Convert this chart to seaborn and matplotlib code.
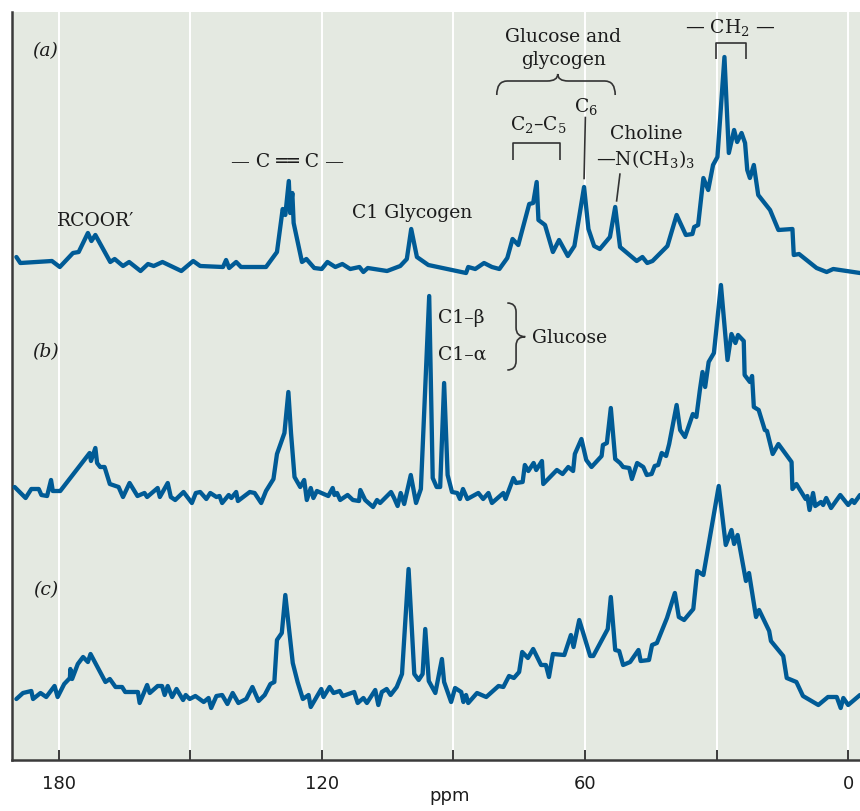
import matplotlib
matplotlib.use("Agg")
import matplotlib.pyplot as plt
from matplotlib.path import Path
from matplotlib.patches import PathPatch
import seaborn as sns
import pandas as pd

# --- 13C NMR spectra: chemical shift (ppm) and signal intensity (a.u.) ---
ppm_a = [189.6, 188.7, 181.5, 179.7, 176.7, 175.4, 173.3, 172.5, 171.6, 168.2,
         167.2, 165.3, 163.9, 161.3, 159.6, 158.3, 156.3, 152.0, 149.3, 147.7,
         142.5, 141.8, 141.1, 139.5, 138.4, 132.7, 130.2, 128.9, 128.3, 127.5,
         127.2, 126.7, 126.4, 124.5, 123.5, 121.7, 120.0, 118.7, 116.9, 115.3,
         113.5, 111.4, 110.5, 109.5, 105.1, 102.1, 100.6, 99.6, 98.3, 95.7,
         87.1, 86.6, 85.0, 83.0, 81.2, 79.5, 77.7, 76.5, 75.2, 72.7,
         71.8, 71.0, 70.6, 69.1, 67.3, 65.9, 63.9, 62.4, 60.2, 59.2,
         57.9, 56.6, 54.3, 53.1, 52.0, 48.2, 46.9, 45.8, 44.6, 41.2,
         39.1, 37.0, 35.5, 35.1, 34.2, 33.0, 31.9, 30.8, 29.8, 28.2,
         27.2, 26.0, 25.3, 24.3, 23.5, 23.0, 22.4, 21.5, 20.5, 17.8,
         15.9, 12.7, 12.4, 11.2, 7.2, 4.9, 3.4, -2.7]
int_a = [18, 12, 14, 8, 22, 23, 42, 34, 40, 13,
         16, 9, 13, 4, 11, 9, 13, 4, 14, 9,
         8, 15, 7, 13, 8, 8, 23, 66, 60, 94,
         62, 82, 52, 13, 16, 7, 6, 13, 8, 11,
         6, 8, 3, 7, 4, 9, 16, 46, 18, 10,
         2, 8, 6, 12, 8, 6, 17, 36, 30, 71,
         72, 93, 55, 50, 23, 35, 19, 29, 88, 46,
         29, 26, 38, 68, 28, 14, 18, 12, 14, 29,
         60, 40, 41, 48, 50, 97, 85, 110, 118, 218,
         122, 145, 133, 142, 132, 105, 97, 110, 80, 65,
         45, 46, 20, 21, 7, 3, 6, 2]

ppm_b = [190.0, 187.5, 186.2, 184.5, 183.9, 182.6, 181.7, 181.3, 179.6, 172.9,
         172.6, 171.6, 171.2, 170.5, 169.5, 168.3, 166.3, 165.3, 163.8, 162.0,
         160.4, 159.8, 157.4, 156.9, 155.1, 154.4, 153.4, 151.5, 149.6, 148.7,
         147.7, 146.3, 145.4, 144.0, 143.3, 142.7, 141.2, 140.6, 139.5, 139.1,
         136.4, 135.3, 133.8, 132.7, 131.0, 130.2, 128.5, 127.6, 127.0, 126.2,
         124.9, 124.0, 123.4, 122.5, 121.9, 121.1, 118.5, 117.5, 117.1, 116.5,
         115.8, 114.1, 112.9, 111.5, 111.2, 110.1, 108.3, 107.4, 106.7, 104.2,
         103.5, 102.7, 102.0, 101.2, 99.7, 98.5, 97.4, 95.5, 94.7, 93.8,
         93.0, 92.1, 91.3, 90.3, 89.1, 88.5, 87.8, 86.8, 84.3, 83.2,
         82.0, 81.2, 78.6, 78.1, 76.3, 75.7, 74.2, 73.7, 72.9, 71.7,
         71.1, 69.8, 69.5, 66.4, 65.1, 63.8, 62.7, 62.3, 60.8, 59.7,
         58.5, 56.2, 55.9, 55.0, 54.1, 53.1, 52.0, 51.3, 49.9, 49.3,
         48.1, 46.7, 45.9, 44.8, 44.1, 43.3, 42.5, 41.5, 40.8, 39.1,
         38.3, 37.2, 35.4, 34.6, 33.8, 33.2, 32.6, 31.8, 30.6, 29.0,
         27.5, 26.6, 25.7, 25.1, 23.8, 23.6, 22.4, 21.9, 21.5, 20.4,
         19.0, 18.5, 17.2, 15.9, 12.9, 12.7, 11.8, 9.7, 9.3, 8.8,
         8.0, 7.5, 6.2, 5.7, 5.0, 3.9, 1.8, 0.0, -0.9, -1.4,
         -2.7]
int_b = [25, 14, 23, 23, 17, 16, 32, 21, 21, 59,
         51, 64, 49, 45, 45, 28, 25, 15, 29, 16,
         19, 15, 24, 15, 29, 15, 12, 20, 9, 19,
         20, 13, 19, 15, 16, 9, 17, 14, 20, 11,
         20, 19, 9, 21, 33, 58, 79, 120, 79, 35,
         25, 32, 12, 24, 14, 21, 16, 24, 17, 19,
         12, 17, 12, 11, 22, 12, 5, 12, 9, 20,
         14, 6, 19, 8, 37, 9, 23, 216, 34, 25,
         25, 129, 37, 20, 19, 13, 23, 13, 19, 13,
         19, 9, 19, 13, 34, 29, 30, 47, 41, 49,
         42, 51, 28, 42, 38, 45, 41, 58, 73, 52,
         45, 56, 67, 69, 104, 53, 49, 45, 44, 33,
         49, 45, 37, 38, 46, 47, 59, 56, 68, 107,
         82, 75, 98, 95, 122, 140, 125, 150, 159, 227,
         152, 178, 169, 177, 171, 137, 130, 136, 105, 102,
         82, 81, 58, 68, 50, 23, 28, 13, 16, 2,
         19, 6, 10, 7, 14, 4, 17, 7, 12, 9,
         17]

ppm_c = [189.6, 188.1, 186.2, 185.8, 184.1, 182.8, 180.9, 180.2, 178.7, 177.4,
         177.3, 176.9, 175.6, 174.4, 173.3, 172.7, 169.3, 168.3, 167.0, 165.5,
         164.8, 161.9, 161.5, 159.8, 159.2, 157.4, 156.4, 155.8, 155.1, 154.1,
         153.1, 151.6, 151.0, 150.1, 148.8, 146.9, 145.8, 145.2, 144.0, 142.7,
         141.5, 140.3, 139.0, 137.2, 135.8, 134.4, 133.0, 131.7, 130.8, 130.2,
         129.1, 128.3, 126.6, 125.5, 124.3, 123.0, 122.5, 120.1, 119.6, 118.2,
         117.3, 115.9, 115.2, 112.6, 111.8, 110.5, 109.7, 107.8, 107.1, 106.3,
         105.2, 104.3, 102.9, 101.7, 100.2, 98.9, 97.9, 97.0, 96.4, 95.6,
         94.1, 92.6, 92.1, 90.5, 89.6, 88.2, 87.7, 87.1, 86.6, 84.6,
         82.5, 79.7, 78.6, 77.3, 76.2, 75.0, 74.3, 73.0, 71.8, 70.0,
         68.9, 68.2, 67.3, 64.7, 63.2, 62.6, 61.3, 58.8, 58.1, 54.8,
         54.1, 53.1, 52.2, 51.3, 49.7, 47.8, 47.3, 45.4, 44.7, 43.6,
         41.3, 39.5, 38.6, 37.4, 35.3, 34.4, 33.0, 29.5, 27.9, 26.6,
         26.0, 25.2, 23.3, 22.6, 21.0, 20.3, 18.0, 17.6, 14.8, 14.0,
         11.8, 10.3, 6.8, 4.6, 2.6, 1.7, 1.1, 0.0, -2.7]
int_c = [11, 17, 19, 11, 17, 13, 24, 13, 26, 32,
         41, 31, 46, 53, 48, 56, 28, 31, 23, 23,
         18, 18, 7, 25, 17, 24, 24, 15, 24, 13,
         21, 10, 15, 11, 14, 8, 12, 2, 14, 15,
         6, 17, 7, 11, 23, 9, 15, 26, 28, 70,
         77, 115, 47, 28, 11, 15, 3, 21, 13, 23,
         17, 19, 14, 18, 7, 12, 7, 20, 5, 18,
         21, 15, 23, 36, 141, 36, 30, 36, 81, 29,
         17, 51, 28, 8, 22, 18, 8, 15, 7, 17,
         13, 24, 23, 34, 32, 38, 58, 52, 61, 45,
         45, 33, 56, 55, 75, 63, 90, 54, 54, 81,
         113, 60, 59, 45, 48, 60, 49, 50, 65, 67,
         92, 117, 93, 90, 101, 139, 135, 224, 165, 180,
         166, 175, 129, 137, 93, 100, 79, 69, 54, 32,
         28, 14, 5, 13, 13, 2, 12, 5, 15]

trace_names = ["(a)", "(b)", "(c)"]
trace_offsets = [485, 248, 50]      # vertical stacking of the spectra
x_ticks = [180, 150, 120, 90, 60, 30, 0]
x_ticklabels = ["180", "", "120", "", "60", "", "0"]

BLUE = "#005b96"
INK = "#1c1c1c"
LINE = "#333333"
BG = "#e4e9e1"

sns.set_theme(style="white", rc={"axes.facecolor": BG})
plt.rcParams["font.family"] = ["DejaVu Serif", "DejaVu Sans"]
plt.rcParams["mathtext.fontset"] = "dejavuserif"

fig = plt.figure(figsize=(8.6, 8.11), dpi=100)
ax = fig.add_axes([12 / 860, 51 / 811, 848 / 860, 748 / 811])
ax.set_facecolor(BG)

spectra = [(ppm_a, int_a), (ppm_b, int_b), (ppm_c, int_c)]
for name, (ppm, inten), off in zip(trace_names, spectra, trace_offsets):
    df = pd.DataFrame({"ppm": ppm, "signal": [v + off for v in inten]})
    sns.lineplot(data=df, x="ppm", y="signal", ax=ax, color=BLUE, lw=3.1,
                 estimator=None, sort=False, zorder=3)

ax.set_xlim(190.6, -2.7)
ax.set_ylim(0, 748)

# axes, ticks, grid
ax.set_xticks(x_ticks)
ax.set_xticklabels(x_ticklabels)
ax.set_yticks([])
ax.tick_params(axis="x", direction="in", length=7, width=1.4, color="#3a3a3a",
               pad=11, labelsize=13, labelcolor=INK, bottom=True)
for lbl in ax.get_xticklabels():
    lbl.set_fontfamily("DejaVu Sans")
ax.grid(axis="x", color="white", lw=1.4)
ax.grid(axis="y", visible=False)
ax.set_axisbelow(True)
for side in ("top", "right"):
    ax.spines[side].set_visible(False)
for side in ("left", "bottom"):
    ax.spines[side].set_visible(True)
    ax.spines[side].set_color("#3a3a3a")
    ax.spines[side].set_linewidth(1.8)
ax.set_xlabel("ppm", fontsize=13, family="DejaVu Sans", color=INK)
ax.set_ylabel("")
ax.xaxis.set_label_coords(0.516, -0.036)

FS = 13.5
txt = dict(fontsize=FS, color=INK, zorder=5)

# panel labels
for name, y in zip(trace_names, [709, 408, 170]):
    ax.text(183.0, y, name, style="italic", ha="center", va="center", **txt)

# peak assignments
ax.text(171.6, 534, "RCOOR\u2032", ha="center", va="baseline", **txt)
ax.text(127.8, 593, "\u2014 C \u2550\u2550 C \u2014", ha="center", va="baseline", **txt)
ax.text(99.4, 541.7, "C1 Glycogen", ha="center", va="baseline", **txt)
ax.text(64.9, 718, "Glucose and", ha="center", va="baseline", **txt)
ax.text(64.9, 695, "glycogen", ha="center", va="baseline", **txt)
ax.text(70.7, 630, "C$_2$\u2013C$_5$", ha="center", va="baseline", **txt)
ax.text(59.8, 648.3, "C$_6$", ha="center", va="baseline", **txt)
ax.text(46.1, 621, "Choline", ha="center", va="baseline", **txt)
ax.text(57.5, 595, "\u2014N(CH$_3$)$_3$", ha="left", va="baseline", **txt)
ax.text(26.9, 726.7, "\u2014 CH$_2$ \u2014", ha="center", va="baseline", **txt)
ax.text(93.4, 436.7, "C1\u2013\u03b2", ha="left", va="baseline", **txt)
ax.text(93.4, 400, "C1\u2013\u03b1", ha="left", va="baseline", **txt)
ax.text(72.1, 416.7, "Glucose", ha="left", va="baseline", **txt)

lk = dict(color=LINE, lw=1.2, zorder=4, solid_capstyle="butt")
# brackets and leader lines
ax.plot([76.4, 76.4, 65.7, 65.7], [600, 616.7, 616.7, 600], **lk)
ax.plot([30.2, 30.2, 23.3, 23.3], [700.7, 716.7, 716.7, 700.7], **lk)
ax.plot([59.9, 60.2], [643.3, 580.7], **lk)
ax.plot([52.0, 52.8], [586.7, 558.3], **lk)


def brace_horizontal(ax, x_left, x_right, x_tip, y_end, y_mid, y_tip, q):
    verts = [(x_left, y_end), (x_left, y_mid), (x_left - q, y_mid),
             (x_tip + q, y_mid), (x_tip, y_mid), (x_tip, y_tip),
             (x_tip, y_mid), (x_tip - q, y_mid),
             (x_right + q, y_mid), (x_right, y_mid), (x_right, y_end)]
    codes = [Path.MOVETO, Path.CURVE3, Path.CURVE3, Path.LINETO,
             Path.CURVE3, Path.CURVE3, Path.CURVE3, Path.CURVE3,
             Path.LINETO, Path.CURVE3, Path.CURVE3]
    ax.add_patch(PathPatch(Path(verts, codes), fill=False, ec=LINE, lw=1.2,
                           zorder=4))


def brace_vertical(ax, x_end, x_mid, x_tip, y_top, y_bot, y_tip, q):
    verts = [(x_end, y_top), (x_mid, y_top), (x_mid, y_top - q),
             (x_mid, y_tip + q), (x_mid, y_tip), (x_tip, y_tip),
             (x_mid, y_tip), (x_mid, y_tip - q),
             (x_mid, y_bot + q), (x_mid, y_bot), (x_end, y_bot)]
    codes = [Path.MOVETO, Path.CURVE3, Path.CURVE3, Path.LINETO,
             Path.CURVE3, Path.CURVE3, Path.CURVE3, Path.CURVE3,
             Path.LINETO, Path.CURVE3, Path.CURVE3]
    ax.add_patch(PathPatch(Path(verts, codes), fill=False, ec=LINE, lw=1.2,
                           zorder=4))


brace_horizontal(ax, 80.1, 53.1, 66.2, 665, 679, 686, 2.4)
brace_vertical(ax, 77.7, 75.7, 73.6, 457, 390, 423.3, 9)

fig.savefig("out.png", dpi=100, facecolor="white")
